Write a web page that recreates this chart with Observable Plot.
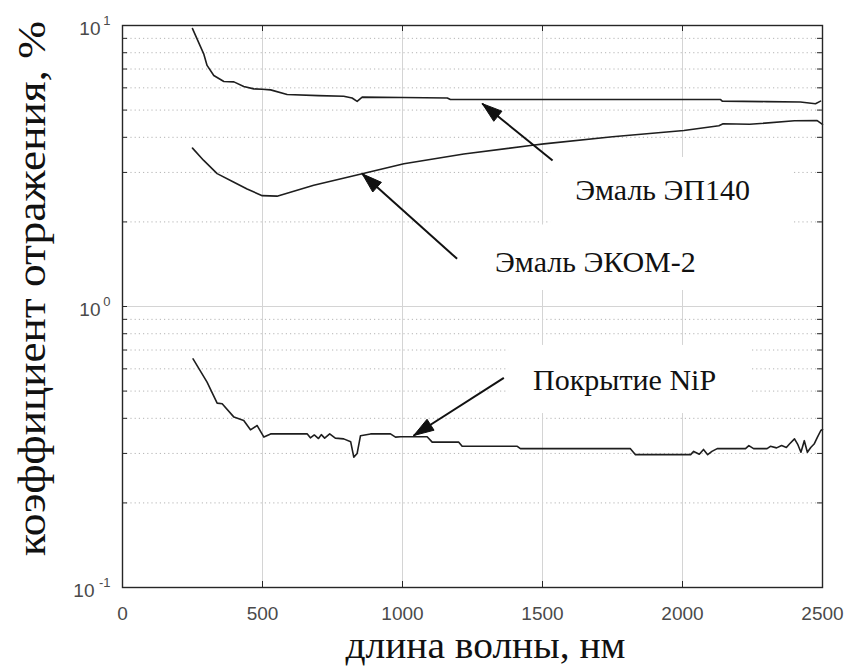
<!DOCTYPE html>
<html><head><meta charset="utf-8">
<script src="https://cdn.jsdelivr.net/npm/d3@7"></script>
<script src="https://cdn.jsdelivr.net/npm/@observablehq/plot@0.6"></script>
<style>body{margin:0;background:#fff}</style>
</head><body><div id="chart"></div>
<script>
// Series: Эмаль ЭП140
const ep140X = [250,290,302,326,362,398,433,469,499,529,588,700,790,820,838,856,1000,1160,1171,1457,1800,2136,2142,2300,2421,2475,2493];
const ep140Y = [9.75,7.93,7.21,6.64,6.32,6.3,6.07,5.95,5.93,5.9,5.68,5.63,5.6,5.52,5.37,5.56,5.54,5.52,5.45,5.45,5.45,5.45,5.38,5.36,5.34,5.27,5.38];
// Series: Эмаль ЭКОМ-2
const ekomX = [250,290,338,398,445,499,552,683,826,1005,1219,1457,1505,1750,2005,2130,2145,2240,2400,2481,2500];
const ekomY = [3.66,3.31,2.97,2.77,2.62,2.48,2.47,2.70,2.92,3.22,3.49,3.74,3.79,4.02,4.23,4.40,4.47,4.45,4.58,4.59,4.45];
// Series: Покрытие NiP
const nipX = [252,302,338,356,398,433,457,481,505,529,660,671,685,700,710,722,740,760,790,815,826,838,850,886,957,975,993,1088,1106,1201,1213,1410,1421,1814,1832,2029,2040,2060,2075,2090,2105,2124,2225,2237,2254,2302,2314,2336,2354,2371,2382,2400,2411,2423,2435,2446,2458,2470,2482,2494,2500];
const nipY = [0.651,0.538,0.453,0.451,0.404,0.393,0.364,0.377,0.343,0.352,0.352,0.341,0.349,0.339,0.350,0.340,0.352,0.340,0.338,0.330,0.291,0.300,0.347,0.352,0.352,0.343,0.344,0.344,0.329,0.329,0.318,0.318,0.312,0.312,0.297,0.297,0.305,0.298,0.310,0.297,0.305,0.312,0.312,0.320,0.312,0.312,0.318,0.314,0.320,0.315,0.324,0.338,0.324,0.303,0.333,0.303,0.315,0.324,0.343,0.362,0.365];

// Axes
const xTicks = [0,500,1000,1500,2000,2500];
const xGrid = [500,1000,1500,2000];
const yMajor = [0.1,1,10];
const yExp = ["-1","0","1"];
const yMinor = [0.2,0.3,0.4,0.5,0.6,0.7,0.8,0.9,2,3,4,5,6,7,8,9];
const yTickMarks = [0.2,0.3,0.4,0.5,0.6,0.7,0.8,0.9,1,2,3,4,5,6,7,8,9];
const xLabel = "длина волны, нм";
const yLabel = "коэффициент отражения, %";

// Annotations
const noteText = ["Эмаль ЭП140","Эмаль ЭКОМ-2","Покрытие NiP"];
const noteX = [1929,1689,1793];
const noteY = [2.587,1.434,0.545];
const boxX1 = [1529,1271,1379];
const boxX2 = [2393,2107,2250];
const boxY1 = [3.39,1.95,0.727];
const boxY2 = [1.94,1.14,0.416];
const arrowX1 = [1536,1195,1362];
const arrowY1 = [3.31,1.478,0.5576];
const arrowX2 = [1285,856,1040];
const arrowY2 = [5.27,2.966,0.3474];

const W = 848, H = 668, mL = 122, mR = 26, mT = 25, mB = 81;
const xDomain = [0,2500], yDomain = [0.1,10];

const toRows = (xs, ys, name) => xs.map((x,i) => ({x, y: ys[i], name}));
const series = [...toRows(ep140X, ep140Y, "ЭП140"), ...toRows(ekomX, ekomY, "ЭКОМ-2"), ...toRows(nipX, nipY, "NiP")];
const notes = noteText.map((t,i) => ({t, x: noteX[i], y: noteY[i]}));
const boxes = boxX1.map((v,i) => ({x1: v, x2: boxX2[i], y1: boxY1[i], y2: boxY2[i]}));
const arrows = arrowX1.map((v,i) => ({x1: v, y1: arrowY1[i], x2: arrowX2[i], y2: arrowY2[i]}));

// arrowheads: filled triangles computed through the same scales
const sx = Plot.scale({x: {domain: xDomain, range: [mL, W - mR]}});
const sy = Plot.scale({y: {type: "log", domain: yDomain, range: [H - mB, mT]}});
const headL = 20, headW = 13;
const heads = [];
arrows.forEach((a, i) => {
  const tx = sx.apply(a.x1), ty = sy.apply(a.y1), px = sx.apply(a.x2), py = sy.apply(a.y2);
  const len = Math.hypot(px - tx, py - ty), ux = (px - tx) / len, uy = (py - ty) / len;
  const bx = px - ux * headL, by = py - uy * headL;
  const pts = [[px, py], [bx - uy * headW / 2, by + ux * headW / 2], [bx + uy * headW / 2, by - ux * headW / 2], [px, py]];
  pts.forEach(p => heads.push({id: i, x: sx.invert(p[0]), y: sy.invert(p[1])}));
});

const tickFont = "'Liberation Sans', Arial, Helvetica, sans-serif";
const serif = "'Liberation Serif', 'Times New Roman', serif";
const innerW = W - mL - mR, innerH = H - mT - mB;

const chart = Plot.plot({
  width: W, height: H,
  marginLeft: mL, marginRight: mR, marginTop: mT, marginBottom: mB,
  x: {domain: xDomain, axis: null},
  y: {type: "log", domain: yDomain, axis: null},
  style: {background: "white", overflow: "visible"},
  marks: [
    Plot.ruleY(yMinor, {stroke: "#b5b5b5", strokeWidth: 1, strokeDasharray: "1.2,3"}),
    Plot.ruleX(xGrid, {stroke: "#d4d4d4", strokeWidth: 1}),
    Plot.ruleY([1], {stroke: "#d4d4d4", strokeWidth: 1}),
    Plot.rect(boxes, {x1: "x1", x2: "x2", y1: "y1", y2: "y2", fill: "white"}),
    Plot.line(series, {x: "x", y: "y", z: "name", stroke: "#1e1e1e", strokeWidth: 1.6}),
    Plot.link(arrows, {x1: "x1", y1: "y1", x2: "x2", y2: "y2", stroke: "#111", strokeWidth: 2}),
    Plot.line(heads, {x: "x", y: "y", z: "id", fill: "#111", stroke: "#111", strokeWidth: 1}),
    Plot.text(notes, {x: "x", y: "y", text: "t", fontFamily: serif, fontSize: 30, fill: "#111", textAnchor: "middle", lineAnchor: "middle"}),
    // ticks inside the frame
    Plot.tickX(xTicks, {x: d => d, stroke: "#262626", insetTop: innerH - 6}),
    Plot.tickX(xTicks, {x: d => d, stroke: "#262626", insetBottom: innerH - 6}),
    Plot.tickY(yTickMarks, {y: d => d, stroke: "#262626", insetRight: innerW - 5}),
    Plot.tickY(yTickMarks, {y: d => d, stroke: "#262626", insetLeft: innerW - 5}),
    Plot.frame({stroke: "#262626", strokeWidth: 1.4}),
    // tick labels
    Plot.text(xTicks, {x: d => d, text: d => String(d), frameAnchor: "bottom", dy: 26, lineAnchor: "middle", fontFamily: tickFont, fontSize: 19, fill: "#4a4a4a"}),
    Plot.text(yMajor.filter((d,i) => yExp[i].length === 1), {y: d => d, text: () => "10", frameAnchor: "left", dx: -22, dy: 3, textAnchor: "end", lineAnchor: "middle", fontFamily: tickFont, fontSize: 19, fill: "#4a4a4a"}),
    Plot.text(yMajor.filter((d,i) => yExp[i].length > 1), {y: d => d, text: () => "10", frameAnchor: "left", dx: -28, dy: 3, textAnchor: "end", lineAnchor: "middle", fontFamily: tickFont, fontSize: 19, fill: "#4a4a4a"}),
    Plot.text(yMajor, {y: d => d, text: (d,i) => yExp[i], frameAnchor: "left", dx: -12, dy: -5, textAnchor: "end", lineAnchor: "middle", fontFamily: tickFont, fontSize: 13, fill: "#4a4a4a"}),
    // axis titles
    Plot.text([xLabel], {text: d => d, frameAnchor: "bottom", dx: 13, dy: 58, textAnchor: "middle", lineAnchor: "middle", fontFamily: serif, fontSize: 38, fill: "#111"}),
    Plot.text([yLabel], {text: d => d, frameAnchor: "left", dx: -90, dy: -18, rotate: -90, textAnchor: "middle", lineAnchor: "middle", fontFamily: serif, fontSize: 39, fill: "#111"})
  ]
});
// stretch the axis titles along their direction, as in the reference
d3.select(chart).selectAll("text").each(function() {
  const t = this.textContent;
  if (t === yLabel) d3.select(this).attr("textLength", 535).attr("lengthAdjust", "spacingAndGlyphs");
  if (t === xLabel) d3.select(this).attr("textLength", 280).attr("lengthAdjust", "spacingAndGlyphs");
});
document.getElementById("chart").appendChild(chart);
</script>
</body></html>
